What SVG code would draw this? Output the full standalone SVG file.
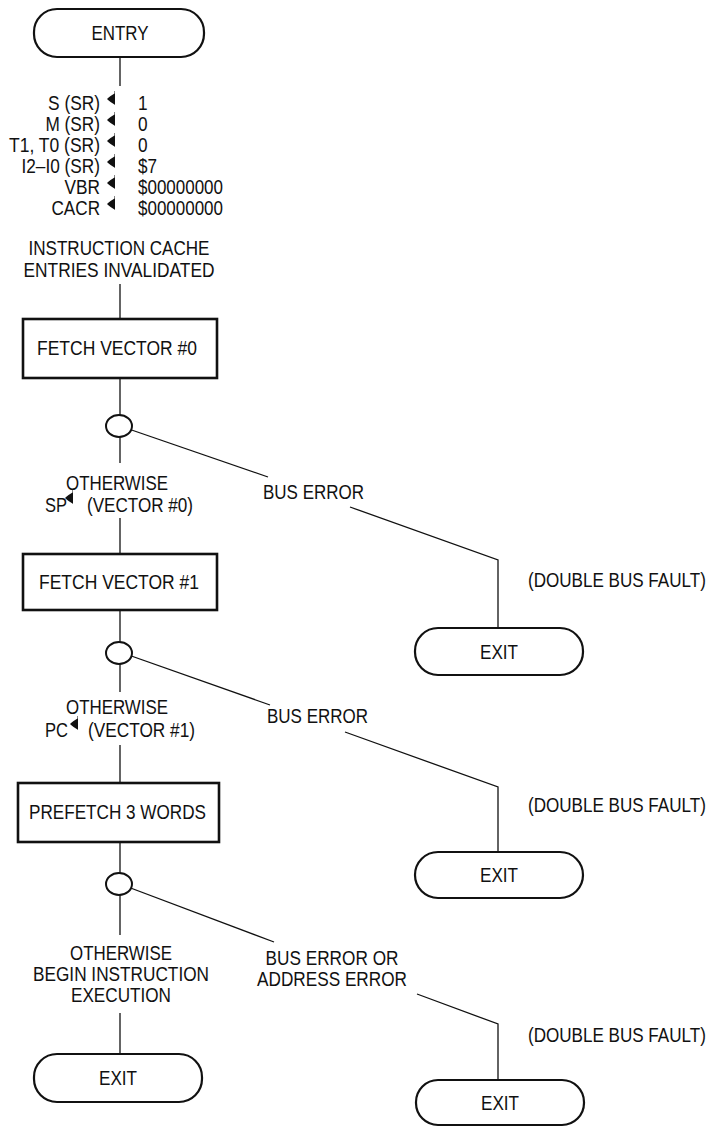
<svg xmlns="http://www.w3.org/2000/svg" width="715" height="1127" viewBox="0 0 715 1127">
<style>
text{font-family:"Liberation Sans",Arial,Helvetica,sans-serif;font-size:19.5px;fill:#111}
.c{text-anchor:middle}
.r{text-anchor:end}
.term{fill:#fff;stroke:#111;stroke-width:2.2}
.box{fill:#fff;stroke:#111;stroke-width:2.6}
.dec{fill:#fff;stroke:#111;stroke-width:2}
.ln{stroke:#111;stroke-width:1.3;fill:none}
.ar{fill:#111}
</style>
<defs>
<path id="asg" d="M0,-8 L0,6 L-0.5,5.5 C-3,4 -6,2 -8,0 C-6,-2 -3,-4 -0.5,-5.5 L-0.5,-8 Z"/>
</defs>
<rect width="715" height="1127" fill="#fff"/>
<g id="connectors">
<line class="ln" x1="120" y1="57" x2="120" y2="86"/>
<line class="ln" x1="120" y1="284" x2="120" y2="319"/>
<line class="ln" x1="120" y1="378" x2="120" y2="415"/>
<line class="ln" x1="120" y1="437" x2="120" y2="463"/>
<line class="ln" x1="120" y1="518" x2="120" y2="554"/>
<line class="ln" x1="120" y1="610" x2="120" y2="642"/>
<line class="ln" x1="120" y1="664" x2="120" y2="692"/>
<line class="ln" x1="120" y1="745" x2="120" y2="783"/>
<line class="ln" x1="120" y1="842" x2="120" y2="873"/>
<line class="ln" x1="120" y1="895" x2="120" y2="935"/>
<line class="ln" x1="120" y1="1013" x2="120" y2="1054"/>
<polyline class="ln" points="120,426 268,477"/>
<polyline class="ln" points="350,507 498,560 498,628"/>
<polyline class="ln" points="120,652 270,705"/>
<polyline class="ln" points="345,732 498,787 498,852"/>
<polyline class="ln" points="120,884 274,942"/>
<polyline class="ln" points="417,994 498,1024 498,1080"/>
</g>
<g id="entry">
<rect class="term" x="34" y="9" width="170" height="48" rx="23"/>
<text class="c" x="120" y="40" textLength="57" lengthAdjust="spacingAndGlyphs">ENTRY</text>
</g>
<g id="assignments">
<text class="r" x="100" y="110" textLength="52" lengthAdjust="spacingAndGlyphs">S (SR)</text>
<text class="r" x="100" y="131" textLength="54.5" lengthAdjust="spacingAndGlyphs">M (SR)</text>
<text class="r" x="100" y="152" textLength="91" lengthAdjust="spacingAndGlyphs">T1, T0 (SR)</text>
<text class="r" x="100" y="173" textLength="78.5" lengthAdjust="spacingAndGlyphs">I2–I0 (SR)</text>
<text class="r" x="100" y="194" textLength="35.5" lengthAdjust="spacingAndGlyphs">VBR</text>
<text class="r" x="100" y="215" textLength="48.5" lengthAdjust="spacingAndGlyphs">CACR</text>
<use href="#asg" class="ar" x="115" y="99"/>
<use href="#asg" class="ar" x="115" y="120"/>
<use href="#asg" class="ar" x="115" y="141"/>
<use href="#asg" class="ar" x="115" y="162"/>
<use href="#asg" class="ar" x="115" y="183"/>
<use href="#asg" class="ar" x="115" y="204"/>
<text x="138" y="110" textLength="9.6" lengthAdjust="spacingAndGlyphs">1</text>
<text x="138" y="131" textLength="9.6" lengthAdjust="spacingAndGlyphs">0</text>
<text x="138" y="152" textLength="9.6" lengthAdjust="spacingAndGlyphs">0</text>
<text x="138" y="173" textLength="19" lengthAdjust="spacingAndGlyphs">$7</text>
<text x="138" y="194" textLength="85" lengthAdjust="spacingAndGlyphs">$00000000</text>
<text x="138" y="215" textLength="85" lengthAdjust="spacingAndGlyphs">$00000000</text>
</g>
<g id="invalidate">
<text class="c" x="119" y="255" textLength="181" lengthAdjust="spacingAndGlyphs">INSTRUCTION CACHE</text>
<text class="c" x="119" y="277" textLength="191" lengthAdjust="spacingAndGlyphs">ENTRIES INVALIDATED</text>
</g>
<g id="fetch0">
<rect class="box" x="23" y="319" width="194" height="59"/>
<text x="37" y="355" textLength="160" lengthAdjust="spacingAndGlyphs">FETCH VECTOR #0</text>
</g>
<g id="dec1">
<ellipse class="dec" cx="119" cy="426" rx="13" ry="11"/>
</g>
<g id="otherwise1">
<text class="c" x="117" y="490" textLength="102" lengthAdjust="spacingAndGlyphs">OTHERWISE</text>
<text x="45" y="512" textLength="22" lengthAdjust="spacingAndGlyphs">SP</text>
<use href="#asg" class="ar" x="73" y="498"/>
<text x="87" y="512" textLength="106" lengthAdjust="spacingAndGlyphs">(VECTOR #0)</text>
</g>
<g id="buserr1">
<text x="263" y="499" textLength="101" lengthAdjust="spacingAndGlyphs">BUS ERROR</text>
<text transform="translate(528 587) scale(0.875 1)">(DOUBLE BUS FAULT)</text>
</g>
<g id="exit1">
<rect class="term" x="415" y="628" width="168" height="47" rx="23"/>
<text class="c" x="499" y="658.5" textLength="38" lengthAdjust="spacingAndGlyphs">EXIT</text>
</g>
<g id="fetch1">
<rect class="box" x="23" y="554" width="194" height="56"/>
<text x="39" y="589" textLength="160" lengthAdjust="spacingAndGlyphs">FETCH VECTOR #1</text>
</g>
<g id="dec2">
<ellipse class="dec" cx="119" cy="653" rx="13" ry="11"/>
</g>
<g id="otherwise2">
<text class="c" x="117" y="714" textLength="102" lengthAdjust="spacingAndGlyphs">OTHERWISE</text>
<text x="45" y="737" textLength="23" lengthAdjust="spacingAndGlyphs">PC</text>
<use href="#asg" class="ar" x="78" y="724"/>
<text x="88" y="737" textLength="107" lengthAdjust="spacingAndGlyphs">(VECTOR #1)</text>
</g>
<g id="buserr2">
<text x="267" y="723" textLength="101" lengthAdjust="spacingAndGlyphs">BUS ERROR</text>
<text transform="translate(528 812) scale(0.875 1)">(DOUBLE BUS FAULT)</text>
</g>
<g id="exit2">
<rect class="term" x="415" y="852" width="168" height="46" rx="23"/>
<text class="c" x="499" y="882" textLength="38" lengthAdjust="spacingAndGlyphs">EXIT</text>
</g>
<g id="prefetch">
<rect class="box" x="18" y="783" width="201" height="59"/>
<text x="29" y="819" textLength="177" lengthAdjust="spacingAndGlyphs">PREFETCH 3 WORDS</text>
</g>
<g id="dec3">
<ellipse class="dec" cx="119" cy="884" rx="13" ry="11"/>
</g>
<g id="otherwise3">
<text class="c" x="121" y="960" textLength="102" lengthAdjust="spacingAndGlyphs">OTHERWISE</text>
<text class="c" x="121" y="981" textLength="176" lengthAdjust="spacingAndGlyphs">BEGIN INSTRUCTION</text>
<text class="c" x="121" y="1002" textLength="100" lengthAdjust="spacingAndGlyphs">EXECUTION</text>
</g>
<g id="exit4">
<rect class="term" x="34" y="1054" width="168" height="48" rx="23"/>
<text class="c" x="118" y="1085" textLength="38" lengthAdjust="spacingAndGlyphs">EXIT</text>
</g>
<g id="buserr3">
<text class="c" x="332" y="965" textLength="133" lengthAdjust="spacingAndGlyphs">BUS ERROR OR</text>
<text class="c" x="332" y="986" textLength="150" lengthAdjust="spacingAndGlyphs">ADDRESS ERROR</text>
<text transform="translate(528 1042) scale(0.875 1)">(DOUBLE BUS FAULT)</text>
</g>
<g id="exit3">
<rect class="term" x="416" y="1080" width="168" height="45" rx="22"/>
<text class="c" x="500" y="1110" textLength="38" lengthAdjust="spacingAndGlyphs">EXIT</text>
</g>
</svg>
